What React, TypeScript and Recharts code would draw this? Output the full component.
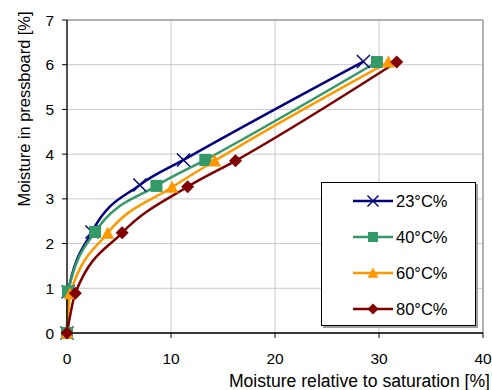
import { LineChart, Line, XAxis, YAxis, CartesianGrid, ReferenceLine } from "recharts";

const FONT = "'Liberation Sans', Arial, sans-serif";

const SERIES_NAMES = ["23°C%", "40°C%", "60°C%", "80°C%"];
const COLORS = ["#000080", "#339966", "#FF9900", "#800000"];

// x = moisture relative to saturation [%], y = moisture in pressboard [%]
const X_23 = [0, 0.1, 2.4, 7.0, 11.2, 28.5];
const Y_23 = [0, 0.92, 2.26, 3.31, 3.87, 6.07];
const X_40 = [0, 0.1, 2.7, 8.6, 13.3, 29.8];
const Y_40 = [0, 0.93, 2.26, 3.29, 3.87, 6.06];
const X_60 = [0, 0.3, 3.9, 10.1, 14.2, 30.9];
const Y_60 = [0, 0.88, 2.23, 3.26, 3.85, 6.06];
const X_80 = [0, 0.8, 5.3, 11.6, 16.2, 31.7];
const Y_80 = [0, 0.89, 2.24, 3.27, 3.85, 6.06];

const X_TICKS = [0, 10, 20, 30, 40];
const Y_TICKS = [0, 1, 2, 3, 4, 5, 6, 7];

const toPoints = (xs: number[], ys: number[]) => xs.map((x, i) => ({ x, y: ys[i] }));

const SERIES = [
  toPoints(X_23, Y_23),
  toPoints(X_40, Y_40),
  toPoints(X_60, Y_60),
  toPoints(X_80, Y_80),
];

function Marker({ kind, cx, cy, s, color }: { kind: number; cx: number; cy: number; s: number; color: string }) {
  if (kind === 0) {
    return (
      <g stroke={color} strokeWidth={1.4}>
        <line x1={cx - s} y1={cy - s} x2={cx + s} y2={cy + s} />
        <line x1={cx - s} y1={cy + s} x2={cx + s} y2={cy - s} />
      </g>
    );
  }
  if (kind === 1) {
    return <rect x={cx - s} y={cy - s} width={s * 2} height={s * 2} fill={color} />;
  }
  if (kind === 2) {
    return (
      <polygon
        points={`${cx},${cy - s} ${cx + s},${cy + s * 0.85} ${cx - s},${cy + s * 0.85}`}
        fill={color}
      />
    );
  }
  return (
    <polygon
      points={`${cx},${cy - s} ${cx + s},${cy} ${cx},${cy + s} ${cx - s},${cy}`}
      fill={color}
    />
  );
}

function makeDot(kind: number) {
  return (props: any) => {
    const { cx, cy, index } = props;
    if (cx == null || cy == null) return <g key={index} />;
    return (
      <g key={`m-${kind}-${index}`}>
        <Marker kind={kind} cx={cx} cy={cy} s={kind === 1 ? 6 : 6.5} color={COLORS[kind]} />
      </g>
    );
  };
}

function LegendBox() {
  return (
    <div
      style={{
        position: "absolute",
        left: 321,
        top: 182,
        width: 155,
        height: 144,
        border: "1px solid #000",
        background: "#fff",
        boxShadow: "2px 2px 0 #a0a0a0",
        boxSizing: "border-box",
        fontFamily: FONT,
        fontSize: 16.5,
        color: "#000",
      }}
    >
      {SERIES_NAMES.map((name) => name).map((name, i) => (
        <div key={name} style={{ display: "flex", alignItems: "center", height: 36 }}>
          <svg width={74} height={20}>
            <line x1={31} y1={10} x2={71} y2={10} stroke={COLORS[i]} strokeWidth={2.5} />
            <Marker kind={i} cx={51} cy={10} s={i === 1 ? 5 : 5.5} color={COLORS[i]} />
          </svg>
          <span style={{ marginLeft: 0 }}>{name}</span>
        </div>
      ))}
    </div>
  );
}

function YTitle(props: any) {
  const { viewBox } = props;
  const x = viewBox.x + 24;
  const y = 109;
  return (
    <text x={x} y={y} transform={`rotate(-90 ${x} ${y})`} textAnchor="middle" dominantBaseline="central" fontFamily={FONT} fontSize={16.4} fill="#000">
      Moisture in pressboard [%]
    </text>
  );
}

function XTitle(props: any) {
  const { viewBox } = props;
  return (
    <text x={viewBox.x + viewBox.width + 7} y={387} textAnchor="end" fontFamily={FONT} fontSize={17.6} fill="#000">
      Moisture relative to saturation [%]
    </text>
  );
}

export default function App() {
  return (
    <div style={{ position: "absolute", left: 0, top: 0, width: 492, height: 390, background: "#fff" }}>
      <LineChart width={492} height={390} margin={{ top: 20, right: 9, bottom: 0, left: 0 }}>
        <CartesianGrid stroke="#c8c8c8" strokeWidth={1} />
        <XAxis
          type="number"
          dataKey="x"
          domain={[0, 40]}
          ticks={X_TICKS}
          interval={0}
          height={57}
          axisLine={{ stroke: "#000", strokeWidth: 1.3 }}
          tickLine={{ stroke: "#000" }}
          tickSize={5}
          tickMargin={15}
          tick={{ fill: "#000", fontSize: 15.5, fontFamily: FONT }}
          label={<XTitle />}
        />
        <YAxis
          type="number"
          dataKey="y"
          domain={[0, 7]}
          ticks={Y_TICKS}
          interval={0}
          width={67}
          axisLine={{ stroke: "#000", strokeWidth: 1.3 }}
          tickLine={{ stroke: "#000" }}
          tickSize={5}
          tickMargin={8}
          tick={{ fill: "#000", fontSize: 15.5, fontFamily: FONT }}
          label={<YTitle />}
        />
        <ReferenceLine y={7} stroke="#a0a0a0" strokeWidth={1.5} />
        <ReferenceLine x={40} stroke="#a0a0a0" strokeWidth={1.5} />
        {SERIES.map((data, i) => (
          <Line
            key={SERIES_NAMES[i]}
            data={data}
            dataKey="y"
            name={SERIES_NAMES[i]}
            type="monotone"
            stroke={COLORS[i]}
            strokeWidth={2.5}
            dot={makeDot(i)}
            activeDot={false}
            isAnimationActive={false}
          />
        ))}
      </LineChart>
      <LegendBox />
    </div>
  );
}
